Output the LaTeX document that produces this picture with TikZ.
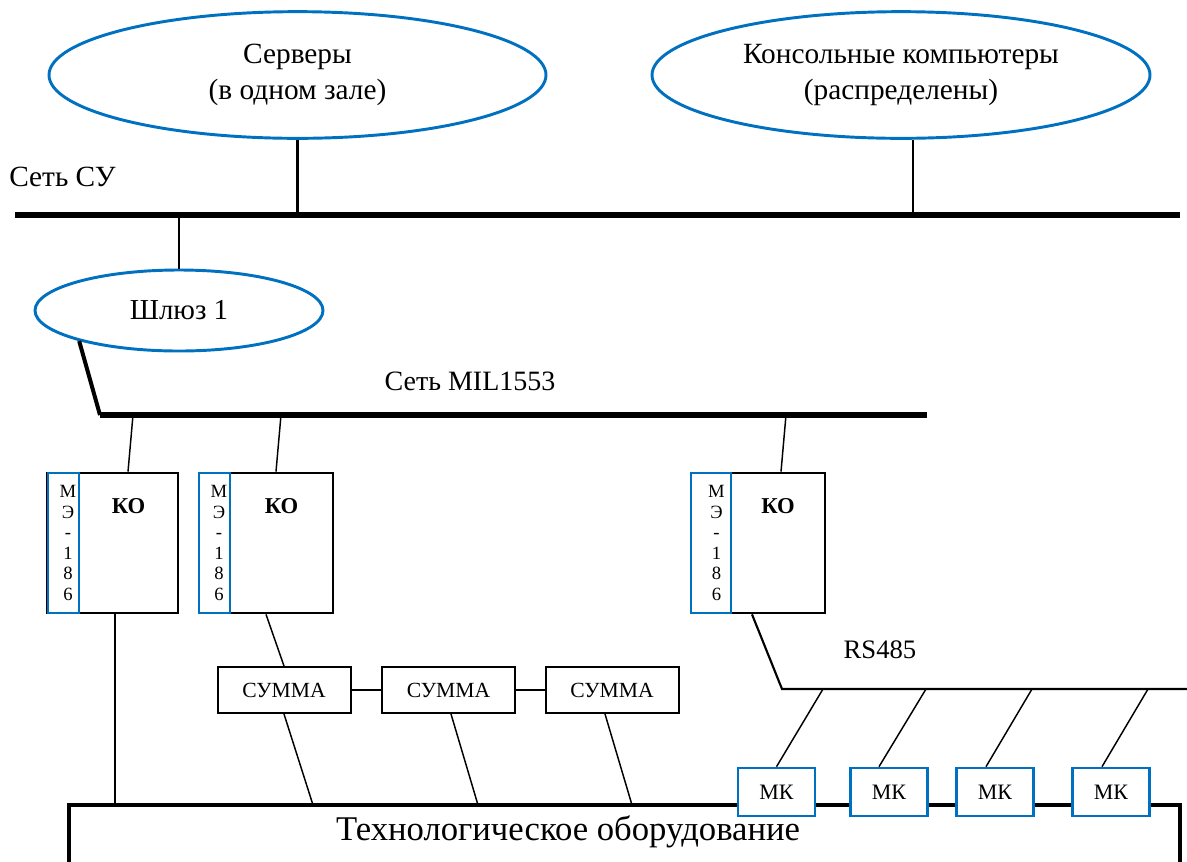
\documentclass[tikz,border=0pt]{standalone}
\usepackage{fontspec}
\setmainfont{Liberation Serif}
\usetikzlibrary{shapes.geometric,calc}
\definecolor{msblue}{RGB}{0,112,192}
\begin{document}
\begin{tikzpicture}[x=0.75pt,y=-0.75pt,
  bigtext/.style={font=\fontsize{22}{28}\selectfont, inner sep=0pt, align=center},
  ell/.style={ellipse, draw=msblue, line width=2.2pt, fill=white, inner sep=0pt, font=\fontsize{22}{27.5}\selectfont, align=center},
  bus/.style={line width=4pt},
  heavy/.style={line width=3pt},
  med/.style={line width=1.6pt},
  thin/.style={line width=1.1pt},
  kobox/.style={draw, line width=2pt, fill=white, inner sep=0pt},
  strip/.style={draw=msblue, line width=2pt, fill=white, inner sep=0pt, minimum height=105pt},
  striptext/.style={inner sep=0pt, align=center, font=\fontsize{14}{15.4}\selectfont},
  summa/.style={draw, line width=1.5pt, fill=white, minimum width=99.75pt, minimum height=34.5pt, inner sep=0pt, font=\fontsize{16.2}{18}\selectfont},
  mk/.style={draw=msblue, line width=2pt, fill=white, minimum width=57.75pt, minimum height=36pt, inner sep=0pt, font=\fontsize{16.5}{18}\selectfont},
  kolabel/.style={font=\fontsize{17}{18}\selectfont\bfseries, inner sep=0pt}
]
\useasboundingbox (0,0) rectangle (1187,861);

% ellipses
\node[ell, minimum width=372.75pt, minimum height=95pt] (srv) at (297.5,75) {Серверы\\(в одном зале)};
\node[ell, minimum width=373.5pt, minimum height=95pt] (con) at (901,75) {Консольные компьютеры\\(распределены)};
\node[bigtext, anchor=west] (sulabel) at (9,177) {Сеть СУ};

% Сеть СУ bus
\coordinate (su-l) at (15,215);
\coordinate (su-r) at (1180,215);
\draw[bus] (su-l) -- (su-r);
\coordinate (su-srv) at (297.5,215);
\coordinate (su-con) at (913,215);
\coordinate (su-shl) at (179,215);
\draw[med] (srv.south) -- (su-srv);
\draw[med] ($(con.south)+(12,0)$) -- (su-con);

% Gateway
\node[ell, minimum width=216pt, minimum height=60.75pt, font=\fontsize{21.7}{26}\selectfont] (shl) at (179,310.5) {Шлюз 1};
\draw[med] (su-shl) -- (shl.north);

% MIL1553 bus
\coordinate (mil-l) at (100,415);
\coordinate (mil-r) at (927,415);
\draw[heavy] (shl.197) -- (mil-l);
\draw[bus] (mil-l) -- (mil-r);
\node[bigtext, font=\fontsize{21}{26}\selectfont] (millabel) at (470,381) {Сеть MIL1553};

% KO boxes
\node[kobox, minimum width=98.25pt, minimum height=105pt] (ko1) at (112.5,543) {};
\node[strip, minimum width=23.25pt] (me1) at (63.5,543) {};
\node[striptext] (me1t) at (68,543) {М\\Э\\-\\1\\8\\6};
\node[kolabel] (kol1) at (128.5,506) {КО};

\node[kobox, minimum width=100.5pt, minimum height=105pt] (ko2) at (266,543) {};
\node[strip, minimum width=23.25pt] (me2) at (214.5,543) {};
\node[striptext] (me2t) at (219,543) {М\\Э\\-\\1\\8\\6};
\node[kolabel] (kol2) at (281.5,506) {КО};

\node[kobox, minimum width=100.5pt, minimum height=105pt] (ko3) at (758,543) {};
\node[strip, minimum width=30pt] (me3) at (711,543) {};
\node[striptext] (me3t) at (716.5,543) {М\\Э\\-\\1\\8\\6};
\node[kolabel] (kol3) at (778,506) {КО};

\coordinate (mil-1) at (133,415);
\coordinate (mil-2) at (281,415);
\coordinate (mil-3) at (786,415);
\draw[thin] (mil-1) -- ($(ko1.north)+(15.5,0)$);
\draw[thin] (mil-2) -- ($(ko2.north)+(10,0)$);
\draw[thin] (mil-3) -- ($(ko3.north)+(23,0)$);

% Technological equipment frame
\node[draw, line width=2.8pt, minimum width=833.25pt, minimum height=48pt, inner sep=0pt] (tech) at (624.5,837) {};
\node[bigtext, font=\fontsize{26}{30}\selectfont] (techlabel) at (568,832) {Технологическое оборудование};

% SUMMA chain
\node[summa] (s1) at (284,690) {СУММА};
\node[summa] (s2) at (448.5,690) {СУММА};
\node[summa] (s3) at (612,690) {СУММА};
\draw[thin] (s1) -- (s2);
\draw[thin] (s2) -- (s3);
\draw[thin] (ko2.south) -- (s1.north);
\coordinate (t-s1) at (313,805);
\coordinate (t-s2) at (478,805);
\coordinate (t-s3) at (632,805);
\coordinate (t-ko1) at (115,805);
\draw[thin] (s1.south) -- (t-s1);
\draw[thin] ($(s2.south)+(2.5,0)$) -- (t-s2);
\draw[thin] ($(s3.south)+(-7,0)$) -- (t-s3);
\draw[thin] ($(ko1.south)+(2.5,0)$) -- (t-ko1);

% RS485
\coordinate (rs-l) at (782,689);
\coordinate (rs-r) at (1187,689);
\draw[med] ($(ko3.south)+(-6,0)$) -- (rs-l) -- (rs-r);
\node[bigtext, font=\fontsize{20}{24}\selectfont] (rslabel) at (880,650) {RS485};

\node[mk] (mk1) at (776.5,792) {МК};
\node[mk] (mk2) at (889,792) {МК};
\node[mk] (mk3) at (995,792) {МК};
\node[mk] (mk4) at (1111,792) {МК};
\coordinate (rs-1) at (823,689);
\coordinate (rs-2) at (926,689);
\coordinate (rs-3) at (1032,689);
\coordinate (rs-4) at (1148,689);
\draw[thin] (rs-1) -- (mk1.north);
\draw[thin] (rs-2) -- ($(mk2.north)+(-10,0)$);
\draw[thin] (rs-3) -- ($(mk3.north)+(-9,0)$);
\draw[thin] (rs-4) -- ($(mk4.north)+(-9,0)$);
\end{tikzpicture}
\end{document}
